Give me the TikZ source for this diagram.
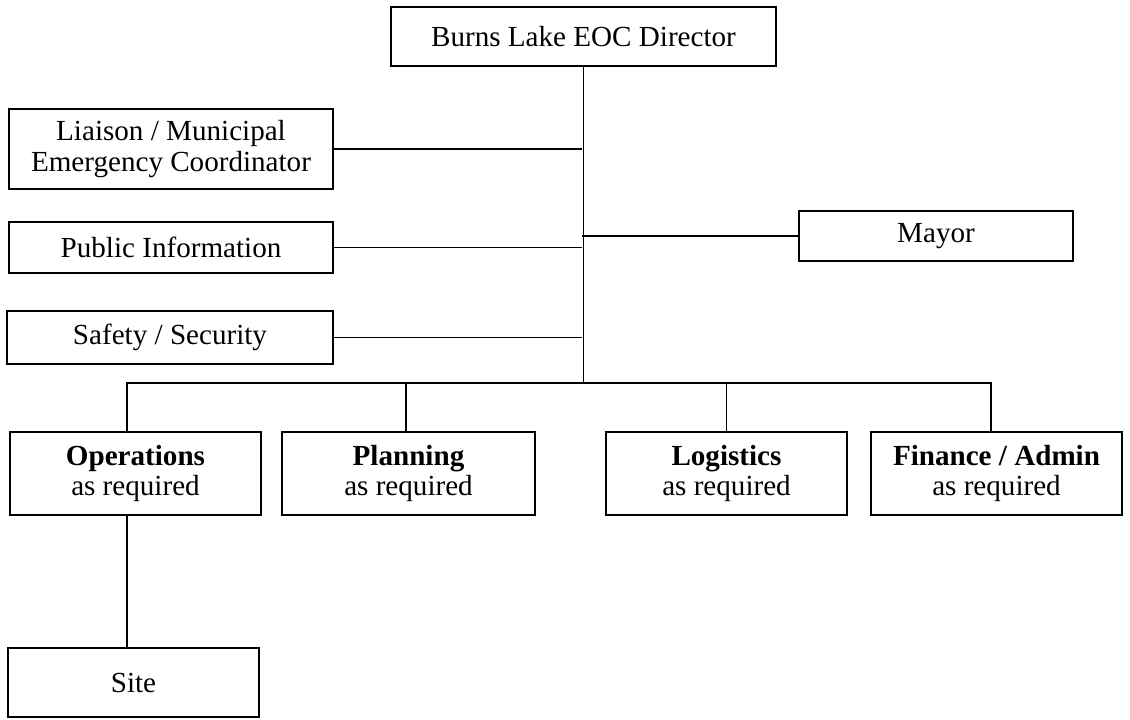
\documentclass[tikz,border=0pt]{standalone}
\usepackage{fontspec}
\setmainfont{Liberation Serif}

% one pixel of the chart
\def\px{0.025cm}

\tikzset{
  orgbox/.style={draw, rectangle, line width=1.2pt, inner sep=0pt, align=center,
    font=\fontsize{20.7}{22}\selectfont},
  section/.style={orgbox, minimum width=251*\px, minimum height=83*\px},
  link/.style={line width=1.2pt},
}

\begin{document}
\begin{tikzpicture}[x=\px, y=-\px]
\useasboundingbox (0,0) rectangle (1130,719);

% Director at the top
\node[orgbox, minimum width=385*\px, minimum height=59*\px] (director) at (583.5,36.5) {Burns Lake EOC Director};

% Staff on the left, Mayor on the right
\node[orgbox, minimum width=324*\px, minimum height=80*\px] (liaison) at (171,149) {Liaison / Municipal\\Emergency Coordinator};
\node[orgbox, minimum width=324*\px, minimum height=51*\px] (public) at (171,247.5) {Public Information};
\node[orgbox, minimum width=326*\px, minimum height=53*\px] (safety) at (170,337.5) {Safety / Security};
\node[orgbox, minimum width=274*\px, minimum height=50*\px] (mayor) at (936,236) {Mayor};

% Sections
\node[section] (ops) at (135.5,473.5) {\textbf{Operations}\\as required};
\node[section, minimum width=253*\px] (planning) at (408.5,473.5) {\textbf{Planning}\\as required};
\node[section, minimum width=241*\px] (logistics) at (726.5,473.5) {\textbf{Logistics}\\as required};
\node[section] (finance) at (996.5,473.5) {\textbf{Finance / Admin}\\as required};

% Site under Operations
\node[orgbox, minimum width=251*\px, minimum height=69*\px] (site) at (133.5,682.5) {Site};

% Lines
\coordinate (bus) at (582,383);
\draw[link] (director) -- (director |- bus);
\draw[link] (liaison) -- (liaison -| bus);
\draw[link] (public) -- (public -| bus);
\draw[link] (safety) -- (safety -| bus);
\draw[link] (mayor) -- (mayor -| bus);
\draw[link] ([xshift=-8.5*\px]ops.north) |- (bus) -| ([xshift=-5.5*\px]finance.north);
\draw[link] ([xshift=-2.5*\px]planning.north) |- (bus);
\draw[link] (logistics.north) |- (bus);
\draw[link] ([xshift=-8.5*\px]ops.south) -- ([xshift=-6.5*\px]site.north);

\end{tikzpicture}
\end{document}
